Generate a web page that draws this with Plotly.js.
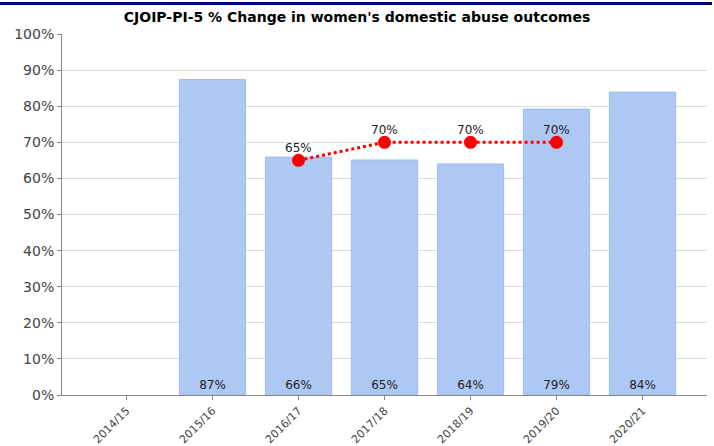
<!DOCTYPE html>
<html>
<head>
<meta charset="utf-8">
<script src="https://cdn.plot.ly/plotly-3.0.1.min.js"></script>
<style>
html,body{margin:0;padding:0;background:#fff;}
#wrap{position:relative;width:714px;height:446px;}
#chart{width:714px;height:446px;}
#topline{position:absolute;left:0;top:2px;width:712px;height:3px;background:#00007f;}
</style>
</head>
<body>
<div id="wrap"><div id="chart"></div><div id="topline"></div></div>
<script>
const categories = ["2014/15","2015/16","2016/17","2017/18","2018/19","2019/20","2020/21"];
const actualValues = [null, 87.4, 65.9, 65.1, 64.0, 79.2, 83.9];
const targetCategories = ["2016/17","2017/18","2018/19","2019/20"];
const targetValues = [65, 70, 70, 70];
const yTickVals = [0,10,20,30,40,50,60,70,80,90,100];
const yTickText = yTickVals.map(v => v + "%");

const bars = {
  type: "bar",
  x: categories,
  y: actualValues,
  width: 0.77,
  marker: {color: "rgba(174,200,244,1)", line: {color: "rgba(158,188,240,1)", width: 1}},
  text: actualValues.map(v => v == null ? "" : Math.round(v) + "%"),
  textposition: "inside",
  insidetextanchor: "start",
  textangle: 0,
  textfont: {family: "DejaVu Sans", size: 12, color: "#222"},
  hoverinfo: "skip",
  showlegend: false
};
const target = {
  type: "scatter",
  mode: "lines+markers",
  x: targetCategories,
  y: targetValues,
  line: {color: "#ff0000", width: 3, dash: "dot"},
  marker: {color: "#ff0000", size: 13},
  showlegend: false,
  cliponaxis: false
};
const annotations = targetCategories.map((c, i) => ({
  x: c, y: targetValues[i], xref: "x", yref: "y",
  text: targetValues[i] + "%", showarrow: false,
  yanchor: "middle", yshift: 12,
  font: {family: "DejaVu Sans", size: 12, color: "#222"}
}));
const layout = {
  width: 714, height: 446,
  margin: {l: 62, r: 7, t: 34, b: 51},
  paper_bgcolor: "#fff", plot_bgcolor: "#fff",
  title: {text: "<b>CJOIP-PI-5 % Change in women's domestic abuse outcomes</b>",
          font: {family: "DejaVu Sans", size: 14, color: "#000"},
          x: 0.5, xanchor: "center", y: 0.962, yanchor: "middle"},
  xaxis: {type: "category", categoryorder: "array", categoryarray: categories,
          range: [-0.75, 6.75], showgrid: false, showline: true, linecolor: "#888", linewidth: 1,
          ticks: "outside", ticklen: 4, tickcolor: "#888", tickangle: -45,
          tickfont: {family: "DejaVu Sans", size: 11, color: "#444"}, zeroline: false, fixedrange: true},
  yaxis: {range: [0, 100], tickvals: yTickVals, ticktext: yTickText,
          showgrid: true, gridcolor: "#dcdcdc", gridwidth: 1,
          showline: true, linecolor: "#888", linewidth: 1,
          ticks: "outside", ticklen: 4, tickcolor: "#888",
          tickfont: {family: "DejaVu Sans", size: 14, color: "#444"}, zeroline: false, fixedrange: true},
  annotations: annotations,
  bargap: 0.23
};
Plotly.newPlot("chart", [bars, target], layout, {displayModeBar: false, staticPlot: true});
</script>
</body>
</html>
